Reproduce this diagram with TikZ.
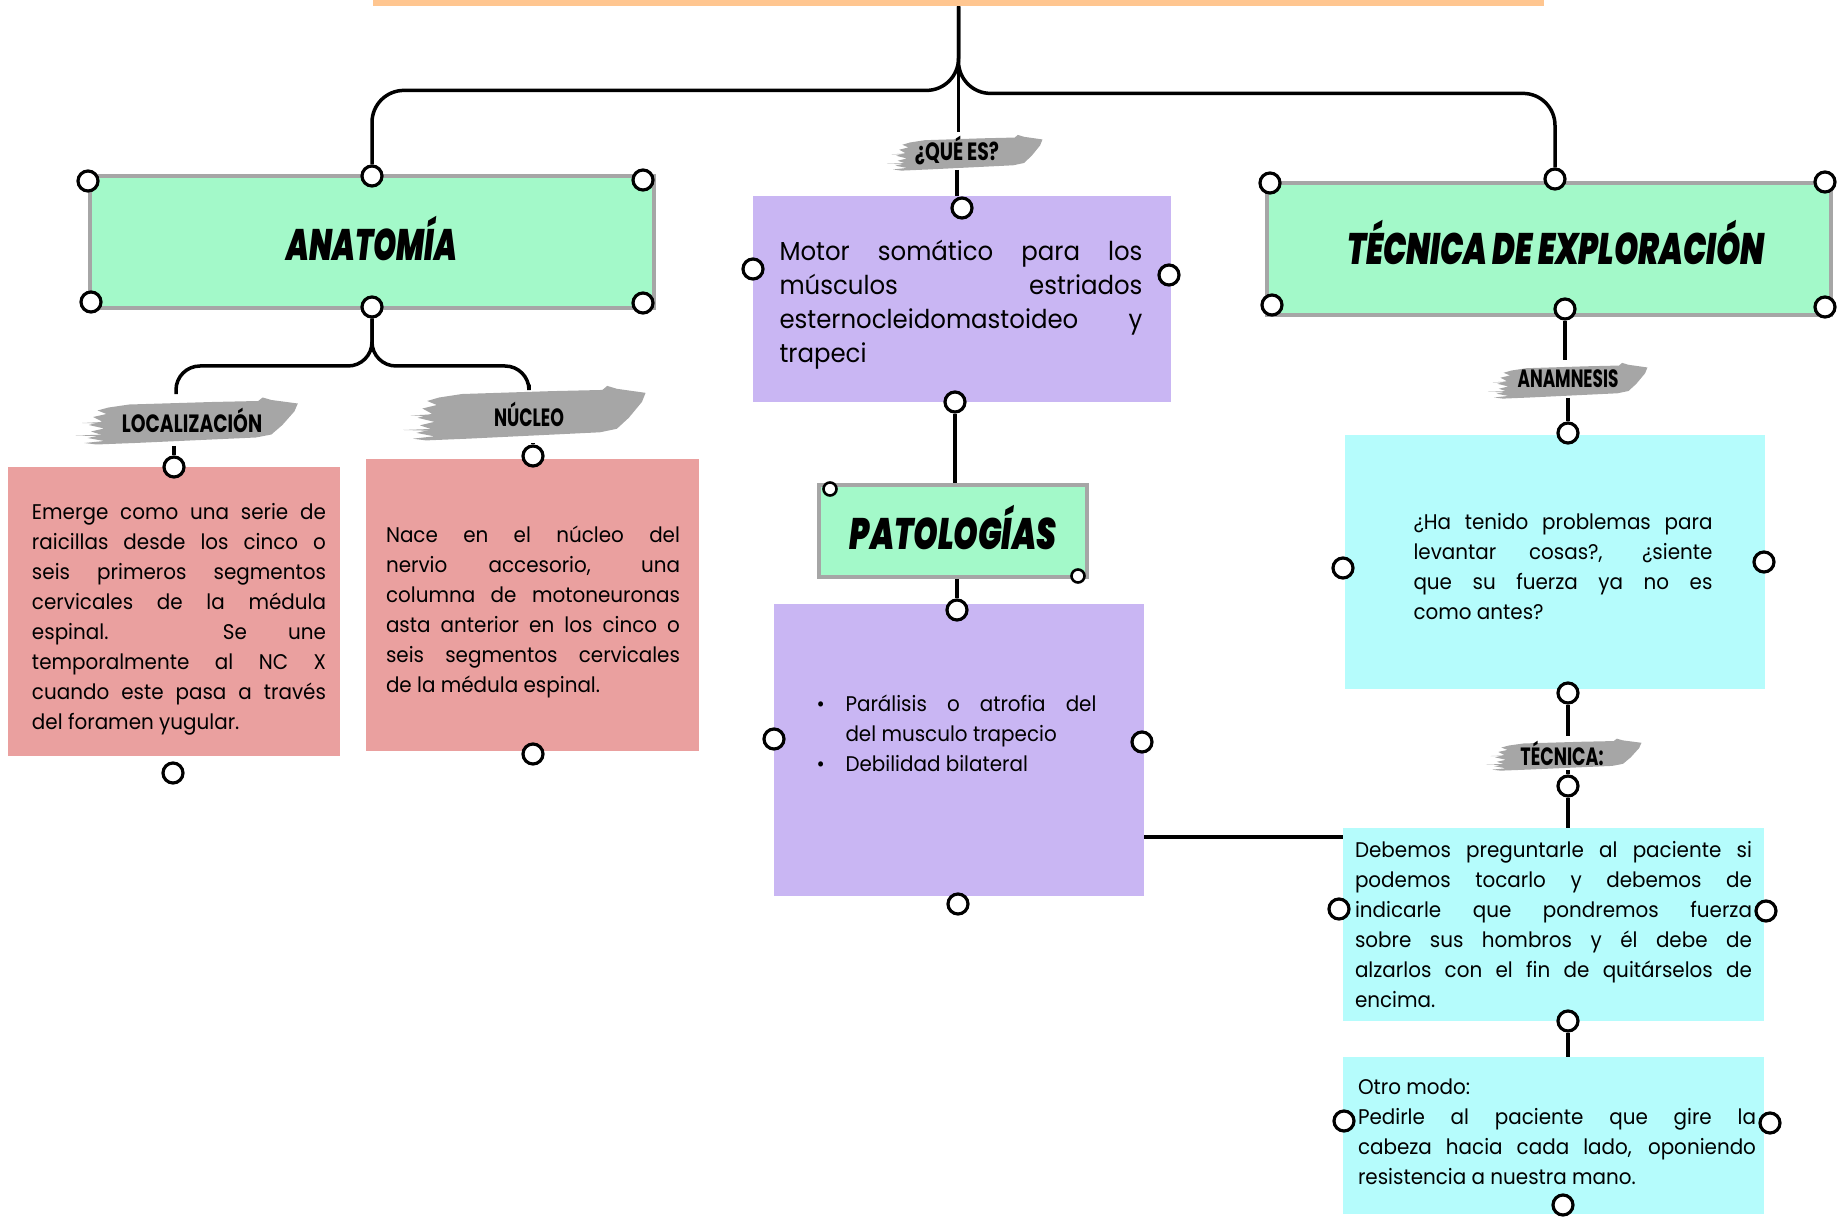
\documentclass[tikz,border=0pt]{standalone}
\usepackage{fontspec}
\setmainfont{Poppins}[FakeStretch=0.94]
\IfFontExistsTF{Poppins Black Italic}
  {\newfontface\titlefont{Poppins Black Italic}}
  {\newcommand{\titlefont}{\bfseries\itshape}}
\usepackage{graphicx}
\usetikzlibrary{calc}

\definecolor{barorange}{HTML}{FFC690}
\definecolor{mint}{HTML}{A3F9C9}
\definecolor{frame}{HTML}{A6A6A6}
\definecolor{rose}{HTML}{EAA09F}
\definecolor{lilac}{HTML}{C9B6F3}
\definecolor{aqua}{HTML}{B5FCFC}
\definecolor{brushgray}{HTML}{A6A6A6}

% gray brush stroke behind a tag: centre, half width, half height
\newcommand{\brush}[3]{%
  \begin{scope}[shift={(#1)}, xscale=#2, yscale=#3]
    \fill[brushgray] (-0.74,-0.50) -- (-0.55,-0.62) -- (0.20,-0.72) -- (0.62,-0.76)
      -- (0.66,-0.90) -- (0.74,-0.80) -- (0.98,-0.66) -- (0.95,-0.35)
      -- (0.84,0.20) -- (0.74,0.58) -- (0.60,0.70) -- (0.10,0.80) -- (-0.50,0.92)
      -- (-0.85,0.98) -- (-0.96,0.92) -- (-0.78,0.84) -- (-0.93,0.72) -- (-0.80,0.60)
      -- (-0.90,0.46) -- (-0.78,0.34) -- (-0.92,0.20) -- (-0.80,0.06) -- (-0.88,-0.12)
      -- (-0.76,-0.24) -- (-0.84,-0.38) -- cycle;
    \fill[brushgray] (-1.04,0.62) -- (-0.70,0.57) -- (-0.70,0.66) -- cycle;
    \fill[brushgray] (-0.98,0.12) -- (-0.74,0.07) -- (-0.74,0.15) -- cycle;
  \end{scope}}

\begin{document}
\begin{tikzpicture}[x=0.5pt, y=-0.5pt,
    link/.style={line width=1.75pt},
    ring/.style={circle, draw, line width=1.6pt, fill=white, inner sep=0pt, minimum size=10pt},
    smallring/.style={ring, line width=1.3pt, minimum size=6.5pt},
    titlebox/.style={draw=frame, line width=2pt, fill=mint, inner sep=0pt,
      text height=19pt, text depth=0pt, font=\fontsize{22}{24}\titlefont},
    card/.style={inner sep=0pt, align=justify, font=\fontsize{10.6}{15}\selectfont},
    tag/.style={inner sep=0pt, font=\fontsize{12.5}{14}\selectfont\bfseries}]
  \useasboundingbox (0,0) rectangle (1844,1218);

  \node[fill=barorange, inner sep=0pt, minimum width=585.5pt, minimum height=3pt] (top) at (958.5,3) {};

  % headings
  \node[titlebox, minimum width=282pt, minimum height=66pt] (anat) at (372,242) {\scalebox{0.67}[1]{ANATOMÍA}};
  \node[titlebox, minimum width=282pt, minimum height=66pt, text height=15.5pt] (tec) at (1549,249)
    {\hspace*{7pt}\scalebox{0.7}[1]{TÉCNICA DE EXPLORACIÓN}};
  \node[titlebox, minimum width=134pt, minimum height=46pt] (pat) at (953,531) {\scalebox{0.71}[1]{PATOLOGÍAS}};

  % coloured cards
  \node[fill=rose, minimum width=166pt, minimum height=144.5pt] (locbox) at (174,611.5) {};
  \node[fill=rose, minimum width=166.5pt, minimum height=146pt] (nucbox) at (532.5,605) {};
  \node[fill=lilac, minimum width=209pt, minimum height=103pt] (quebox) at (962,299) {};
  \node[fill=lilac, minimum width=185pt, minimum height=146pt] (patbox) at (959,750) {};
  \node[fill=aqua, minimum width=210pt, minimum height=127pt] (anambox) at (1555,562) {};
  \node[fill=aqua, minimum width=210.5pt, minimum height=96.5pt] (tecbox) at (1553.5,924.5) {};
  \node[fill=aqua, minimum width=210.5pt, minimum height=78.5pt] (otrobox) at (1553.5,1135.5) {};

  % card texts
  \node[card, text width=147pt] (loctxt) at (179,619.5)
    {Emerge como una serie de\linebreak raicillas desde los cinco o\linebreak seis primeros segmentos\linebreak
     cervicales de la médula\linebreak espinal. Se une\linebreak temporalmente al NC X\linebreak
     cuando este pasa a través\linebreak del foramen yugular.};
  \node[card, text width=147pt] (nuctxt) at (533,612)
    {Nace en el núcleo del\linebreak nervio accesorio, una\linebreak columna de motoneuronas\linebreak
     asta anterior en los cinco o\linebreak seis segmentos cervicales\linebreak de la médula espinal.};
  \node[card, text width=181.5pt, font=\fontsize{13}{17}\selectfont] (quetxt) at (961,305)
    {Motor somático para los\linebreak músculos estriados\linebreak esternocleidomastoideo y\linebreak trapeci};
  \node[card, text width=137.5pt] (pattxt) at (959,733.5)
    {\hangindent=12pt\hangafter=1\makebox[12pt][l]{\hspace*{-2.5pt}•}Parálisis o atrofia del\linebreak del musculo trapecio\par
     \makebox[12pt][l]{\hspace*{-2.5pt}•}Debilidad bilateral};
  \node[card, text width=149.5pt] (anamtxt) at (1563,567)
    {¿Ha tenido problemas para\linebreak levantar cosas?, ¿siente\linebreak que su fuerza ya no es\linebreak como antes?};
  \node[card, text width=198.5pt] (tectxt) at (1553.5,924.5)
    {Debemos preguntarle al paciente si\linebreak podemos tocarlo y debemos de\linebreak
     indicarle que pondremos fuerza\linebreak sobre sus hombros y él debe de\linebreak
     alzarlos con el fin de quitárselos de\linebreak encima.};
  \node[card, text width=199pt] (otrotxt) at (1557,1132)
    {Otro modo:\\ Pedirle al paciente que gire la\linebreak cabeza hacia cada lado, oponiendo\linebreak
     resistencia a nuestra mano.};

  % tags on brush strokes
  \brush{190,420}{110}{25}
  \brush{528,412}{120}{29}
  \brush{967,152}{77}{19}
  \brush{1570,380}{79}{19}
  \brush{1566,754}{77}{17}
  \node[tag, minimum height=25.5pt] (loc) at (192,420) {\scalebox{0.8}[1]{LOCALIZACIÓN}};
  \node[tag, minimum height=29pt] (nuc) at (529,414) {\scalebox{0.74}[1]{NÚCLEO}};
  \node[tag, minimum height=18.5pt] (que) at (957,151) {\scalebox{0.8}[1]{¿QUÉ ES?}};
  \node[tag, minimum height=18.5pt] (anam) at (1568,379) {\scalebox{0.72}[1]{ANAMNESIS}};
  \node[tag, minimum height=17pt] (tecn) at (1562,753) {\scalebox{0.75}[1]{TÉCNICA:}};

  % rings
  \foreach \nm/\px/\py in {an-nw/88/181, an-n/372/176, an-ne/643/180, an-sw/91/302, an-s/372/307, an-se/643/303,
      te-nw/1270/183, te-n/1555/179, te-ne/1825/182, te-sw/1272/305, te-s/1565/309, te-se/1825/307,
      lo-n/174/467, lo-s/173/773, nu-n/533/456, nu-s/533/754,
      qe-n/962/208, qe-w/753/269, qe-e/1169/275, qe-s/955/402,
      pu-n/957/610, pu-w/774/739, pu-e/1142/742, pu-s/958/904,
      am-n/1568/433, am-w/1343/568, am-e/1764/562, am-s/1568/693,
      tq-n/1568/786, cy-w/1339/909, cy-e/1766/911, cy-s/1568/1021,
      ot-w/1344/1121, ot-e/1770/1123, ot-s/1563/1205}
    \node[ring] (\nm) at (\px,\py) {};
  \node[smallring] (pa-nw) at (830,489) {};
  \node[smallring] (pa-se) at (1078,576) {};

  % connectors
  \draw[link, rounded corners=16pt] (top.south) -- ++(0,84) -| (an-n);
  \draw[link, rounded corners=16pt] (top.south) -- ++(0,87) -| (te-n);
  \draw[link] (top.south) -- (top.south |- que.north);
  \draw[link] (que.south) -- (que.south |- qe-n.north);
  \draw[link, rounded corners=12pt] (an-s) -- ++(0,59) -| ([xshift=-8pt]loc.north);
  \draw[link, rounded corners=12pt] (an-s) -- ++(0,59) -| (nuc.north);
  \draw[link] (loc.south -| lo-n) -- (lo-n);
  \draw[link] (nuc.south -| nu-n) -- (nu-n);
  \draw[link] (qe-s) -- (qe-s |- pat.north);
  \draw[link] (pat.south -| pu-n) -- (pu-n);
  \path ([yshift=-43.5pt]patbox.east) coordinate (jn);
  \draw[link] (jn) -- (jn -| tecbox.west);
  \draw[link] (te-s) -- (te-s |- anam.north);
  \draw[link] (anam.south -| am-n) -- (am-n);
  \draw[link] (am-s) -- (am-s |- tecn.north);
  \draw[link] (tecn.south -| tq-n) -- (tq-n);
  \draw[link] (tq-n) -- (tq-n |- tecbox.north);
  \draw[link] (cy-s) -- (cy-s |- otrobox.north);
\end{tikzpicture}
\end{document}
